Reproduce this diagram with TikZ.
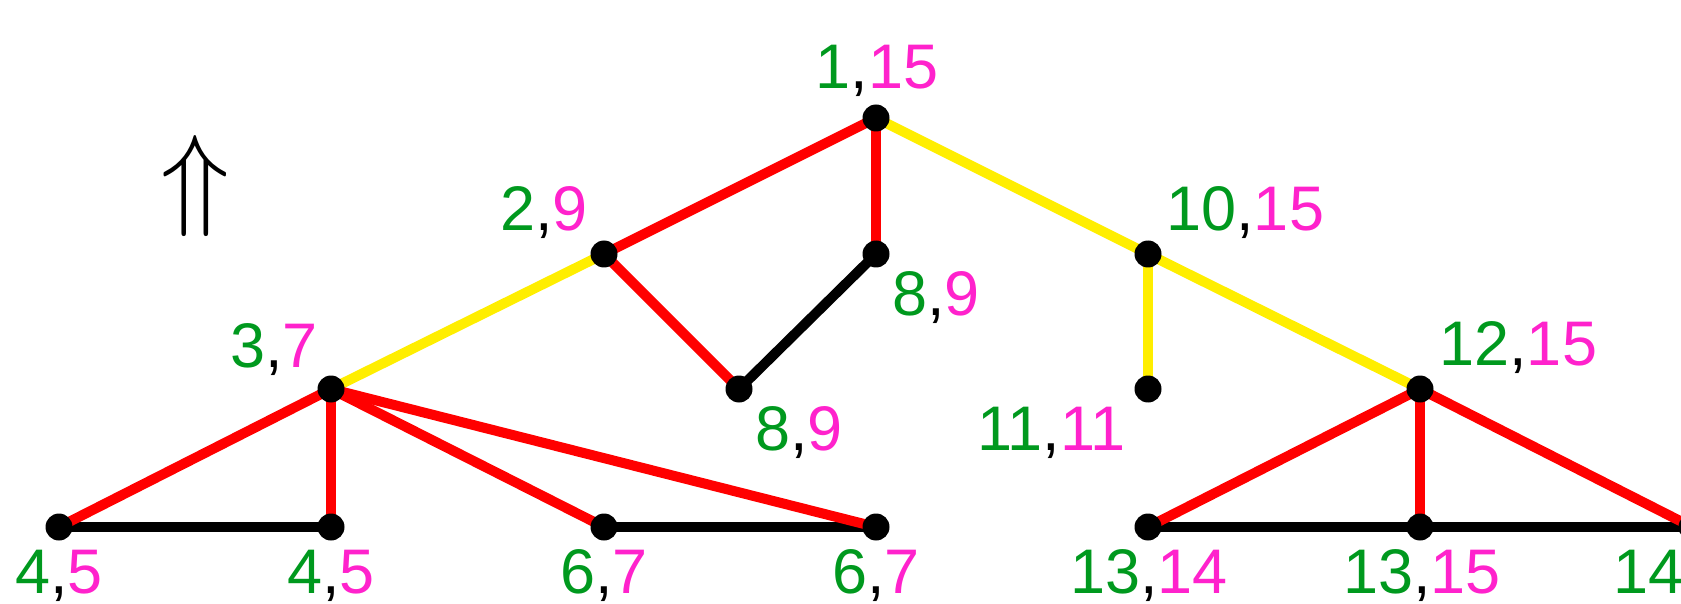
\documentclass[tikz,border=0pt]{standalone}
\usepackage{fontspec}
\setmainfont{Liberation Sans}
\definecolor{grn}{RGB}{0,153,30}
\definecolor{mag}{RGB}{255,34,204}
\definecolor{ylw}{RGB}{255,238,0}
\definecolor{rd}{RGB}{255,0,0}
\newcommand{\lab}[2]{{\color{grn}#1},{\color{mag}#2}}
\begin{document}
\begin{tikzpicture}[x=0.5pt,y=-0.5pt,
  dot/.style={circle,fill=black,inner sep=0pt,minimum size=13.5pt},
  lbl/.style={inner sep=0pt,font=\fontsize{31.5}{36}\selectfont},
  redl/.style={draw=rd,line width=5pt},
  ylwl/.style={draw=ylw,line width=5pt},
  blkl/.style={draw=black,line width=5pt}]
\useasboundingbox (0,0) rectangle (1681,604);
\clip (0,0) rectangle (1681,604);
% nodes
\coordinate (c1) at (876,118);
\coordinate (c2) at (604,254);
\coordinate (c89a) at (876,254);
\coordinate (c10) at (1148,254);
\coordinate (c3) at (331,389);
\coordinate (c8b) at (739,389);
\coordinate (c11) at (1148,389);
\coordinate (c12) at (1420,389);
\coordinate (c4a) at (59,527);
\coordinate (c4b) at (331,527);
\coordinate (c6a) at (604,527);
\coordinate (c6b) at (876,527);
\coordinate (c13a) at (1148,527);
\coordinate (c13b) at (1420,527);
\coordinate (c14) at (1692,527);
% edges
\draw[redl] (c1) -- (c2);
\draw[redl] (c1) -- (c89a);
\draw[ylwl] (c1) -- (c10);
\draw[ylwl] (c2) -- (c3);
\draw[redl] (c2) -- (c8b);
\draw[blkl] (c89a) -- (c8b);
\draw[ylwl] (c10) -- (c11);
\draw[ylwl] (c10) -- (c12);
\draw[blkl] (c4a) -- (c4b);
\draw[blkl] (c6a) -- (c6b);
\draw[blkl] (c13a) -- (c13b);
\draw[blkl] (c13b) -- (c14);
\draw[redl] (c3) -- (c4a);
\draw[redl] (c3) -- (c4b);
\draw[redl] (c3) -- (c6a);
\draw[redl] (c3) -- (c6b);
\draw[redl] (c12) -- (c13a);
\draw[redl] (c12) -- (c13b);
\draw[redl] (c12) -- (c14);
% dots
\foreach \n in {c1,c2,c89a,c10,c3,c8b,c11,c12,c4a,c4b,c6a,c6b,c13a,c13b,c14}
  \node[dot] (d\n) at (\n) {};
% labels
\node[lbl,anchor=base] (l1) at (877,89) {\lab{1}{15}};
\node[lbl,anchor=base east] (l2) at (588,231) {\lab{2}{9}};
\node[lbl,anchor=base west] (l89a) at (892,315) {\lab{8}{9}};
\node[lbl,anchor=base west] (l10) at (1166,231) {\lab{10}{15}};
\node[lbl,anchor=base east] (l3) at (318,367) {\lab{3}{7}};
\node[lbl,anchor=base west] (l8b) at (755,450) {\lab{8}{9}};
\node[lbl,anchor=base east] (l11) at (1126,450) {\lab{11}{11}};
\node[lbl,anchor=base west] (l12) at (1439,365) {\lab{12}{15}};
\node[lbl,anchor=base] (l4a) at (59,593) {\lab{4}{5}};
\node[lbl,anchor=base] (l4b) at (331,593) {\lab{4}{5}};
\node[lbl,anchor=base] (l6a) at (604,593) {\lab{6}{7}};
\node[lbl,anchor=base] (l6b) at (876,593) {\lab{6}{7}};
\node[lbl,anchor=base] (l13a) at (1149,593) {\lab{13}{14}};
\node[lbl,anchor=base] (l13b) at (1422,593) {\lab{13}{15}};
\node[lbl,anchor=base] (l14) at (1692,593) {\lab{14}{15}};
% arrow symbol
\node[inner sep=0pt,scale=5.7] (arr) at (195,186) {$\Uparrow$};
\end{tikzpicture}
\end{document}
